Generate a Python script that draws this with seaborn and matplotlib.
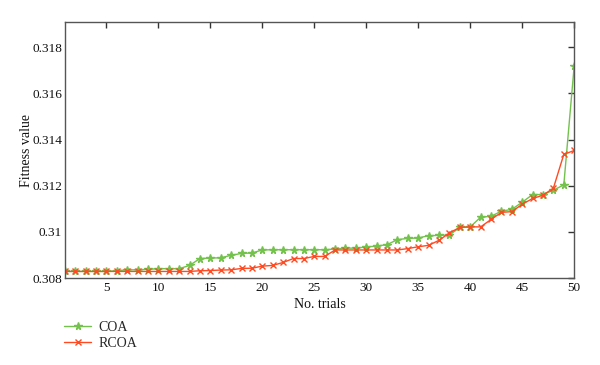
import numpy as np
import pandas as pd
import matplotlib
matplotlib.use("Agg")
import matplotlib.pyplot as plt
import seaborn as sns

# values
trials = list(range(1, 51))
coa = [0.30829, 0.30829, 0.30829, 0.30829, 0.30829, 0.30832, 0.30836, 0.30836, 0.30838, 0.30841,
       0.30841, 0.30841, 0.30855, 0.30885, 0.30887, 0.30888, 0.30899, 0.30907, 0.30909, 0.30922,
       0.30923, 0.30923, 0.30923, 0.30923, 0.30923, 0.30923, 0.30926, 0.30930, 0.30930, 0.30935,
       0.30939, 0.30945, 0.30967, 0.30972, 0.30974, 0.30984, 0.30985, 0.30987, 0.31020, 0.31022,
       0.31064, 0.31068, 0.31090, 0.31098, 0.31129, 0.31162, 0.31162, 0.31181, 0.31204, 0.31720]
rcoa = [0.30829, 0.30829, 0.30829, 0.30829, 0.30829, 0.30829, 0.30829, 0.30829, 0.30829, 0.30829,
        0.30829, 0.30829, 0.30829, 0.30832, 0.30833, 0.30835, 0.30836, 0.30842, 0.30843, 0.30852,
        0.30855, 0.30868, 0.30885, 0.30885, 0.30894, 0.30894, 0.30922, 0.30922, 0.30922, 0.30922,
        0.30922, 0.30922, 0.30922, 0.30928, 0.30936, 0.30942, 0.30964, 0.30996, 0.31020, 0.31022,
        0.31022, 0.31054, 0.31085, 0.31088, 0.31120, 0.31145, 0.31159, 0.31190, 0.31336, 0.31353]
series_names = ["COA", "RCOA"]
x_ticks = [5, 10, 15, 20, 25, 30, 35, 40, 45, 50]
y_ticks = [0.308, 0.310, 0.312, 0.314, 0.316, 0.318]
y_tick_labels = ["0.308", "0.31", "0.312", "0.314", "0.316", "0.318"]

sns.set_style("white")
plt.rcParams["font.family"] = ["Liberation Serif", "DejaVu Serif"]

fig = plt.figure(figsize=(6, 3.65), dpi=100)
ax = fig.add_axes([0.108, 0.238, 0.849, 0.702])

colors = {"COA": "#72c24c", "RCOA": "#ff4a22"}
markers = {"COA": "*", "RCOA": "x"}
sizes = {"COA": 5.5, "RCOA": 4}

for name, vals in zip(series_names, [coa, rcoa]):
    sns.lineplot(x=trials, y=vals, color=colors[name], marker=markers[name],
                 markersize=sizes[name], markeredgewidth=1.0,
                 markeredgecolor=colors[name], linewidth=1.0, ax=ax, label=name,
                 legend=False)

ax.set_xlim(1, 50)
ax.set_ylim(0.308, 0.3191)
ax.set_xticks(x_ticks)
ax.set_yticks(y_ticks)
ax.set_yticklabels(y_tick_labels)
ax.tick_params(direction="in", top=True, right=True, length=4.5, width=1,
               color="#333333", labelsize=9.5, labelcolor="#111111", pad=3)
ax.tick_params(axis="y", pad=2)
for s in ax.spines.values():
    s.set_color("#555555")
    s.set_linewidth(1.0)

ax.set_xlabel("No. trials", fontsize=10, labelpad=3, color="#111111")
ax.set_ylabel("Fitness value", fontsize=10, color="#111111")
ax.yaxis.set_label_coords(-0.062, 0.5)

handles, labels = ax.get_legend_handles_labels()
fig.legend(handles, labels, loc="upper left", bbox_to_anchor=(0.098, 0.137),
           frameon=False, fontsize=10, handlelength=1.9, handletextpad=0.55,
           labelspacing=0.25, borderaxespad=0)

fig.savefig("out.png", dpi=100)
